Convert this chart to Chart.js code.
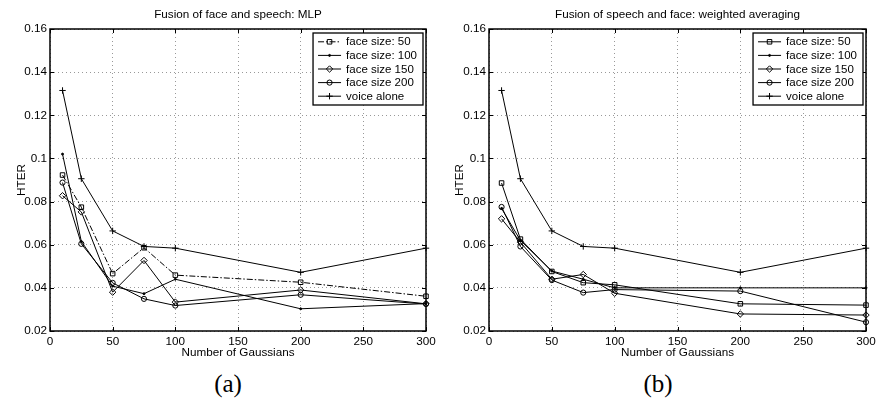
<!DOCTYPE html>
<html>
<head>
<meta charset="utf-8">
<script src="https://cdn.jsdelivr.net/npm/chart.js@4.4.0/dist/chart.umd.min.js"></script>
<style>
  body { margin: 0; background: #fff; width: 876px; height: 402px; overflow: hidden; position: relative; }
  .panel { position: absolute; top: 0; width: 438px; height: 365px; }
  .cap { position: absolute; top: 371px; width: 80px; text-align: center; font-family: "Liberation Serif", serif; font-size: 25px; line-height: 25px; color: #000; }
</style>
</head>
<body>
<div class="panel" style="left:0"><canvas id="mlpChart"></canvas></div>
<div class="panel" style="left:438px"><canvas id="avgChart"></canvas></div>
<div class="cap" style="left:188px">(a)</div>
<div class="cap" style="left:618px">(b)</div>
<script>
const gaussians = [10, 25, 50, 75, 100, 200, 300];
const seriesLabels = ["face size: 50", "face size: 100", "face size 150", "face size 200", "voice alone"];
const xTicks = [0, 50, 100, 150, 200, 250, 300];
const yTicks = [0.02, 0.04, 0.06, 0.08, 0.1, 0.12, 0.14, 0.16];

// (a) fusion by MLP
const mlpFace50 = [0.0923, 0.0774, 0.0466, 0.0586, 0.0459, 0.0426, 0.0361];
const mlpFace100 = [0.1020, 0.0615, 0.0408, 0.0373, 0.0440, 0.0303, 0.0327];
const mlpFace150 = [0.0827, 0.0752, 0.0380, 0.0527, 0.0334, 0.0390, 0.0326];
const mlpFace200 = [0.0888, 0.0604, 0.0423, 0.0349, 0.0318, 0.0368, 0.0325];
const mlpVoice = [0.1315, 0.0906, 0.0664, 0.0592, 0.0584, 0.0472, 0.0584];

// (b) weighted averaging
const avgFace50 = [0.0886, 0.0626, 0.0476, 0.0424, 0.0414, 0.0326, 0.0320];
const avgFace100 = [0.0768, 0.0620, 0.0478, 0.0440, 0.0400, 0.0400, 0.0400];
const avgFace150 = [0.0720, 0.0612, 0.0440, 0.0462, 0.0375, 0.0279, 0.0274];
const avgFace200 = [0.0775, 0.0592, 0.0436, 0.0378, 0.0392, 0.0385, 0.0241];
const avgVoice = [0.1315, 0.0906, 0.0664, 0.0592, 0.0584, 0.0472, 0.0584];

const FONT = "'Liberation Sans', Arial, sans-serif";
const markers = [
  { pointStyle: "rect", radius: 3.2 },
  { pointStyle: "circle", radius: 1, fill: true },
  { pointStyle: "rectRot", radius: 3.2 },
  { pointStyle: "circle", radius: 2.6 },
  { pointStyle: "cross", radius: 3.2 },
];

function makeDatasets(values, firstDash) {
  return values.map((vals, i) => ({
    label: seriesLabels[i],
    data: gaussians.map((g, j) => ({ x: g, y: vals[j] })),
    borderColor: "#000",
    borderWidth: 1,
    borderDash: i === 0 ? firstDash : [],
    pointStyle: markers[i].pointStyle,
    pointRadius: markers[i].radius,
    pointBorderWidth: 1,
    pointBorderColor: "#000",
    pointBackgroundColor: markers[i].fill ? "#000" : "rgba(0,0,0,0)",
    tension: 0,
    clip: false,
  }));
}

function drawMarker(ctx, style, r, fill, x, y) {
  ctx.beginPath();
  if (style === "rect") {
    const s = r * Math.SQRT1_2;
    ctx.rect(x - s, y - s, 2 * s, 2 * s);
  } else if (style === "rectRot") {
    ctx.moveTo(x - r, y); ctx.lineTo(x, y - r); ctx.lineTo(x + r, y); ctx.lineTo(x, y + r); ctx.closePath();
  } else if (style === "circle") {
    ctx.arc(x, y, r, 0, Math.PI * 2);
  } else if (style === "cross") {
    ctx.moveTo(x - r, y); ctx.lineTo(x + r, y); ctx.moveTo(x, y - r); ctx.lineTo(x, y + r);
  }
  if (fill) { ctx.fillStyle = "#000"; ctx.fill(); }
  ctx.stroke();
}

// matlab style: box frame, inward ticks, title and boxed legend
const matlabFrame = {
  id: "matlabFrame",
  afterDraw(chart, args, opts) {
    const { ctx, chartArea: a, scales } = chart;
    ctx.save();
    ctx.strokeStyle = "#000";
    ctx.lineWidth = 1;
    ctx.setLineDash([]);
    ctx.beginPath();
    scales.x.ticks.forEach((t) => {
      const px = Math.round(scales.x.getPixelForValue(t.value)) + 0.5;
      ctx.moveTo(px, a.bottom); ctx.lineTo(px, a.bottom - 4);
      ctx.moveTo(px, a.top); ctx.lineTo(px, a.top + 4);
    });
    scales.y.ticks.forEach((t) => {
      const py = Math.round(scales.y.getPixelForValue(t.value)) + 0.5;
      ctx.moveTo(a.left, py); ctx.lineTo(a.left + 4, py);
      ctx.moveTo(a.right, py); ctx.lineTo(a.right - 4, py);
    });
    ctx.stroke();
    ctx.lineWidth = 1.5;
    ctx.strokeRect(a.left, a.top, a.right - a.left, a.bottom - a.top);

    // title
    ctx.fillStyle = "#000";
    ctx.font = "11.7px " + FONT;
    ctx.textAlign = "center";
    ctx.textBaseline = "middle";
    ctx.fillText(opts.title, (a.left + a.right) / 2, 15);

    // legend
    ctx.font = "11.5px " + FONT;
    const sets = chart.data.datasets;
    const textW = Math.max(...sets.map((d) => ctx.measureText(d.label).width));
    const rowH = 13.6;
    const w = 33 + textW + 6;
    const h = 4 + rowH * sets.length;
    const bx = a.right - 3 - w;
    const by = a.top + 4;
    ctx.fillStyle = "#fff";
    ctx.fillRect(bx, by, w, h);
    ctx.lineWidth = 1.3;
    ctx.strokeRect(bx, by, w, h);
    ctx.textAlign = "left";
    sets.forEach((d, i) => {
      const cy = by + 2 + rowH * (i + 0.5);
      ctx.lineWidth = 1;
      ctx.strokeStyle = "#000";
      ctx.setLineDash(d.borderDash || []);
      ctx.beginPath();
      ctx.moveTo(bx + 5, cy); ctx.lineTo(bx + 28, cy);
      ctx.stroke();
      ctx.setLineDash([]);
      drawMarker(ctx, d.pointStyle, d.pointRadius, markers[i].fill, bx + 16.5, cy);
      ctx.fillStyle = "#000";
      ctx.fillText(d.label, bx + 33, cy + 0.5);
    });
    ctx.restore();
  },
};

function createChart(canvasId, title, values, firstDash, yWidth, rightPad) {
  const ctx = document.getElementById(canvasId).getContext("2d");
  const tickFont = { family: FONT, size: 11.7 };
  return new Chart(ctx, {
    type: "line",
    data: { datasets: makeDatasets(values, firstDash) },
    plugins: [matlabFrame],
    options: {
      responsive: true,
      maintainAspectRatio: false,
      animation: false,
      layout: { padding: { top: 29, right: rightPad, left: 0, bottom: 0 } },
      plugins: {
        legend: { display: false },
        tooltip: { enabled: false },
        matlabFrame: { title: title },
      },
      scales: {
        x: {
          type: "linear",
          min: xTicks[0],
          max: xTicks[xTicks.length - 1],
          afterBuildTicks: (s) => { s.ticks = xTicks.map((v) => ({ value: v })); },
          ticks: { padding: 4, color: "#000", font: tickFont, maxRotation: 0, autoSkip: false },
          grid: { drawTicks: false, color: "#999", lineWidth: 1 },
          border: { display: false, dash: [1, 3] },
          title: { display: true, text: "Number of Gaussians", color: "#000", font: tickFont, padding: { top: 0, bottom: 5 } },
          afterFit: (s) => { s.height = 34; s.paddingLeft = 0; s.paddingRight = 0; },
        },
        y: {
          type: "linear",
          min: yTicks[0],
          max: yTicks[yTicks.length - 1],
          afterBuildTicks: (s) => { s.ticks = yTicks.map((v) => ({ value: v })); },
          ticks: { padding: 3, color: "#000", font: tickFont, callback: (v) => String(+v.toFixed(2)) },
          grid: { drawTicks: false, color: "#999", lineWidth: 1 },
          border: { display: false, dash: [1, 3] },
          title: { display: true, text: "HTER", color: "#000", font: tickFont, padding: { top: 15, bottom: 0 } },
          afterFit: (s) => { s.width = yWidth; s.paddingTop = 0; s.paddingBottom = 0; },
        },
      },
    },
  });
}

let mlpChart, avgChart;
document.addEventListener("DOMContentLoaded", () => {
  mlpChart = createChart("mlpChart", "Fusion of face and speech: MLP",
    [mlpFace50, mlpFace100, mlpFace150, mlpFace200, mlpVoice], [6, 2, 1.5, 2], 50, 12);
  avgChart = createChart("avgChart", "Fusion of speech and face: weighted averaging",
    [avgFace50, avgFace100, avgFace150, avgFace200, avgVoice], [], 51, 10);
});
</script>
</body>
</html>
